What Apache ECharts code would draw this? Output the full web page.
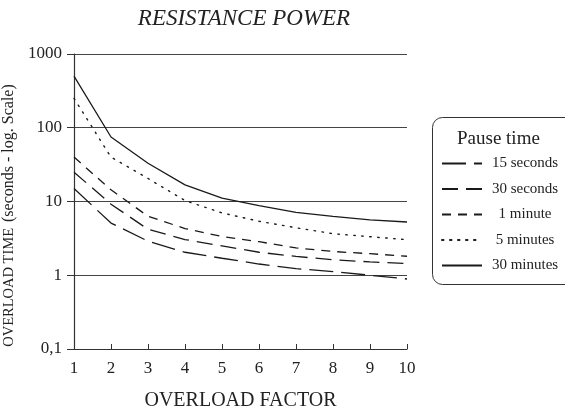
<!DOCTYPE html>
<html>
<head>
<meta charset="utf-8">
<script src="https://cdn.jsdelivr.net/npm/echarts@6/dist/echarts.min.js"></script>
<style>html,body{margin:0;padding:0;background:#fff}#c{width:565px;height:412px}</style>
</head>
<body>
<div id="c"></div>
<script>
const overloadFactor = [1, 2, 3, 4, 5, 6, 7, 8, 9, 10];
const sec15 = [15, 5.1, 2.9, 2.05, 1.7, 1.42, 1.23, 1.12, 1.0, 0.89];
const sec30 = [25, 9.2, 4.2, 3.05, 2.5, 2.05, 1.8, 1.62, 1.52, 1.44];
const min1 = [40, 14.4, 6.3, 4.3, 3.35, 2.85, 2.35, 2.1, 1.96, 1.81];
const min5 = [250, 40, 20.5, 10.3, 7.0, 5.4, 4.4, 3.66, 3.33, 3.04];
const min30 = [500, 75, 33, 16.8, 11.1, 8.8, 7.1, 6.3, 5.65, 5.27];
const seriesNames = ['15 seconds', '30 seconds', '1 minute', '5 minutes', '30 minutes'];
const yTickLabels = {0.1: '0,1', 1: '1', 10: '10', 100: '100', 1000: '1000'};

const FONT = '"Liberation Serif", "DejaVu Serif", serif';
const INK = '#222';
const dashes = [[24, 8], [16, 8], [9, 7], [1.5, 6.5], 'solid'];
const allData = [sec15, sec30, min1, min5, min30];

const chart = echarts.init(document.getElementById('c'), null, {renderer: 'canvas'});
chart.setOption({
  animation: false,
  backgroundColor: '#fff',
  title: {
    text: 'RESISTANCE POWER',
    left: 239, top: 2, textAlign: 'center',
    textStyle: {fontFamily: FONT, fontStyle: 'italic', fontWeight: 'normal', fontSize: 23, color: INK}
  },
  grid: {left: 74, right: 158, top: 54, bottom: 63, containLabel: false, outerBoundsMode: 'none'},
  xAxis: {
    type: 'value', min: 1, max: 10, interval: 1,
    name: 'OVERLOAD FACTOR', nameLocation: 'middle', nameGap: 42,
    nameTextStyle: {fontFamily: FONT, fontSize: 20, color: INK},
    axisLine: {lineStyle: {color: '#333', width: 1.2}},
    axisTick: {show: true, inside: true, length: 5, lineStyle: {color: '#333'}},
    axisLabel: {fontFamily: FONT, fontSize: 17, color: INK, margin: 11},
    splitLine: {show: false}
  },
  yAxis: {
    type: 'log', logBase: 10, min: 0.1, max: 1000,
    name: '{a|OVERLOAD TIME}  {b|(seconds - log. Scale)}',
    nameLocation: 'middle', nameRotate: 90, nameGap: 51,
    nameTextStyle: {
      fontFamily: FONT, color: INK, padding: [0, 28, 0, 0],
      rich: {a: {fontFamily: FONT, fontSize: 14.5, color: INK}, b: {fontFamily: FONT, fontSize: 16, color: INK}}
    },
    axisLine: {show: true, onZero: false, lineStyle: {color: '#333', width: 1.2}},
    axisTick: {show: true, inside: false, length: 7, lineStyle: {color: '#333'}},
    axisLabel: {fontFamily: FONT, fontSize: 17, color: INK, margin: 12,
      formatter: v => yTickLabels[Math.round(v * 10) / 10] || String(v)},
    splitLine: {show: true, lineStyle: {color: '#444', width: 1}}
  },
  legend: {
    orient: 'vertical', left: 436, top: 151,
    itemWidth: 40, itemHeight: 14, itemGap: 10.5,
    data: seriesNames,
    itemStyle: {opacity: 0, borderWidth: 0},
    formatter: '{c|{name}}',
    textStyle: {fontFamily: FONT, fontSize: 15, color: INK,
      rich: {c: {fontFamily: FONT, fontSize: 15, color: INK, width: 76, align: 'center'}}}
  },
  graphic: [
    {type: 'rect', left: 430, top: 115, shape: {width: 160, height: 167, r: 10},
      style: {fill: 'none', stroke: '#333', lineWidth: 1}, z: 0},
    {type: 'text', left: 457, top: 130,
      style: {text: 'Pause time', fontFamily: FONT, fontSize: 19, fill: INK}}
  ],
  series: seriesNames.map((name, i) => ({
    name: name,
    type: 'line',
    showSymbol: false,
    symbol: 'none',
    data: overloadFactor.map((x, j) => [x, allData[i][j]]),
    lineStyle: {color: '#1a1a1a', width: i === 3 ? 1.4 : 1.3, type: dashes[i], cap: i === 3 ? 'round' : 'butt'},
    itemStyle: {color: '#1a1a1a'}
  }))
});
</script>
</body>
</html>
